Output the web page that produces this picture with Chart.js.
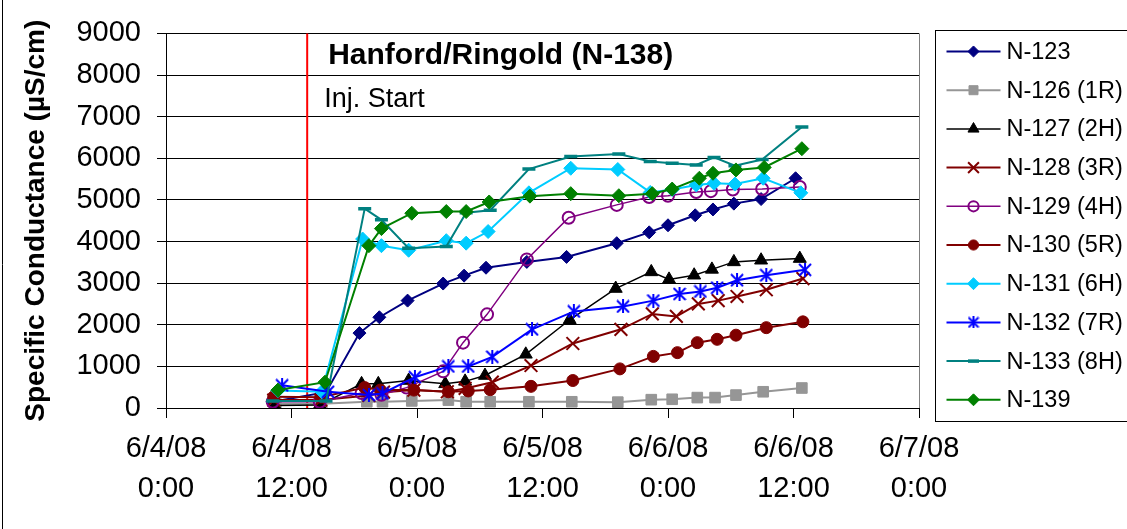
<!DOCTYPE html>
<html>
<head>
<meta charset="utf-8">
<script src="https://cdn.jsdelivr.net/npm/chart.js@4.4.1/dist/chart.umd.min.js"></script>
<style>
  html, body { margin: 0; padding: 0; background: #fff; }
  #myChart { display: block; }
</style>
</head>
<body>
<canvas id="myChart" width="1127" height="529"></canvas>
<script>
// x values are hours after 6/4/08 0:00
const tickHours = [0, 12, 24, 36, 48, 60, 72];
const tickDates = ['6/4/08', '6/4/08', '6/5/08', '6/5/08', '6/6/08', '6/6/08', '6/7/08'];
const tickTimes = ['0:00', '12:00', '0:00', '12:00', '0:00', '12:00', '0:00'];
const injStart = 13.5;

const wells = ['N-123', 'N-126 (1R)', 'N-127 (2H)', 'N-128 (3R)', 'N-129 (4H)',
               'N-130 (5R)', 'N-131 (6H)', 'N-132 (7R)', 'N-133 (8H)', 'N-139'];

const t123 = [10.2, 15.3, 18.5, 20.4, 23.1, 26.5, 28.5, 30.6, 34.5, 38.3, 43.1, 46.2, 48.0, 50.6, 52.3, 54.3, 56.9, 60.2];
const v123 = [150, 380, 1800, 2180, 2580, 2990, 3180, 3370, 3510, 3630, 3960, 4220, 4390, 4630, 4770, 4910, 5020, 5520];

const t126 = [10.5, 14.9, 19.2, 20.7, 23.5, 27.0, 28.7, 31.0, 34.7, 38.8, 43.2, 46.4, 48.4, 50.8, 52.5, 54.5, 57.1, 60.8];
const v126 = [100, 100, 150, 150, 170, 190, 150, 150, 150, 150, 140, 200, 210, 250, 250, 310, 390, 480];

const t127 = [10.4, 14.7, 18.7, 20.3, 23.2, 26.7, 28.6, 30.5, 34.4, 38.6, 43.0, 46.4, 48.1, 50.5, 52.2, 54.3, 56.9, 60.6];
const v127 = [60, 70, 580, 580, 660, 580, 640, 780, 1290, 2120, 2870, 3270, 3090, 3190, 3330, 3510, 3550, 3590];

const t128 = [10.3, 14.8, 19.4, 20.8, 23.7, 26.9, 28.6, 31.2, 34.9, 38.9, 43.5, 46.5, 48.8, 50.9, 52.8, 54.6, 57.4, 60.9];
const v128 = [190, 190, 300, 380, 430, 390, 470, 620, 1020, 1550, 1890, 2260, 2200, 2500, 2580, 2680, 2840, 3110];

const t129 = [10.2, 14.7, 18.7, 20.6, 23.0, 26.5, 28.4, 30.7, 34.5, 38.5, 43.1, 46.2, 48.0, 50.7, 52.1, 54.2, 57.0, 60.6];
const v129 = [150, 150, 360, 320, 490, 880, 1570, 2250, 3570, 4570, 4880, 5070, 5100, 5190, 5210, 5250, 5260, 5310];

const t130 = [10.3, 14.8, 19.0, 20.5, 23.7, 27.0, 28.9, 31.0, 34.9, 38.9, 43.4, 46.6, 48.9, 50.8, 52.7, 54.5, 57.4, 60.9];
const v130 = [270, 260, 490, 430, 430, 390, 410, 440, 520, 660, 940, 1240, 1330, 1570, 1650, 1750, 1930, 2070];

const t131 = [10.7, 14.9, 18.8, 20.6, 23.2, 26.8, 28.7, 30.8, 34.7, 38.7, 43.2, 46.3, 48.4, 50.7, 52.4, 54.4, 57.1, 60.7];
const v131 = [420, 390, 4060, 3900, 3790, 4020, 3960, 4240, 5170, 5760, 5730, 5180, 5250, 5360, 5400, 5380, 5520, 5170];

const t132 = [11.1, 15.5, 19.4, 20.7, 23.8, 27.0, 28.9, 31.2, 35.0, 39.0, 43.7, 46.6, 49.1, 51.1, 52.7, 54.6, 57.4, 61.1];
const v132 = [545, 390, 310, 350, 740, 1000, 1000, 1230, 1890, 2320, 2440, 2580, 2740, 2800, 2890, 3070, 3190, 3320];

const t133 = [10.2, 15.3, 19.0, 20.6, 23.2, 26.8, 28.7, 31.0, 34.7, 38.7, 43.3, 46.3, 48.4, 50.7, 52.4, 54.4, 57.0, 60.8];
const v133 = [170, 170, 4790, 4520, 3840, 3880, 4690, 4750, 5740, 6040, 6100, 5920, 5880, 5840, 6020, 5820, 5970, 6750];

const t139 = [10.7, 15.2, 19.4, 20.6, 23.5, 26.8, 28.7, 30.9, 34.8, 38.7, 43.3, 46.5, 48.4, 51.0, 52.3, 54.5, 57.2, 60.8];
const v139 = [430, 620, 3900, 4310, 4680, 4720, 4720, 4950, 5090, 5150, 5100, 5150, 5260, 5520, 5640, 5720, 5780, 6230];

const FONT = "'Liberation Sans', Arial, sans-serif";

// Excel-style asterisk marker
function makeStar(color, size) {
  const c = document.createElement('canvas');
  c.width = size; c.height = size;
  const g = c.getContext('2d');
  g.strokeStyle = color;
  g.lineWidth = 2;
  g.beginPath();
  g.moveTo(size / 2, 0); g.lineTo(size / 2, size);
  g.moveTo(1, 1); g.lineTo(size - 1, size - 1);
  g.moveTo(size - 1, 1); g.lineTo(1, size - 1);
  g.stroke();
  return c;
}
const star = makeStar('#0000FF', 14);
const starSmall = makeStar('#0000FF', 12);

function pts(t, v) {
  return t.map((x, i) => ({ x: x, y: v[i] }));
}

function series(i, t, v, color, style, radius, fill, lineW, markW) {
  return {
    label: wells[i],
    data: pts(t, v),
    borderColor: color,
    backgroundColor: color,
    borderWidth: lineW,
    pointStyle: style,
    pointRadius: radius,
    pointHoverRadius: radius,
    pointBackgroundColor: fill,
    pointBorderColor: color,
    pointBorderWidth: markW,
    tension: 0,
    fill: false,
    order: 10 - i
  };
}

const datasets = [
  series(0, t123, v123, '#000080', 'rectRot', 6.5, '#000080', 2, 1),
  series(1, t126, v126, '#969696', 'rect', 7.5, '#969696', 2, 1),
  series(2, t127, v127, '#000000', 'triangle', 7.5, '#000000', 1.5, 1),
  series(3, t128, v128, '#800000', 'crossRot', 9, '#800000', 2, 2),
  series(4, t129, v129, '#800080', 'circle', 6, 'rgba(0,0,0,0)', 1.5, 2),
  series(5, t130, v130, '#800000', 'circle', 6, '#800000', 2, 1),
  series(6, t131, v131, '#00CCFF', 'rectRot', 7, '#00CCFF', 2, 1),
  series(7, t132, v132, '#0000FF', star, 7, '#0000FF', 2, 2),
  series(8, t133, v133, '#008080', 'line', 6.5, '#008080', 2, 3.5),
  series(9, t139, v139, '#008000', 'rectRot', 7, '#008000', 2, 1)
];

const extras = {
  id: 'extras',
  beforeDatasetsDraw(chart) {
    const ctx = chart.ctx;
    const a = chart.chartArea;
    const x = chart.scales.x.getPixelForValue(injStart);
    ctx.save();
    ctx.strokeStyle = '#FF0000';
    ctx.lineWidth = 2;
    ctx.beginPath();
    ctx.moveTo(x, a.top);
    ctx.lineTo(x, a.bottom);
    ctx.stroke();
    // right edge of plot area
    ctx.strokeStyle = '#808080';
    ctx.lineWidth = 1;
    ctx.beginPath();
    ctx.moveTo(Math.round(a.right) + 0.5, a.top);
    ctx.lineTo(Math.round(a.right) + 0.5, a.bottom);
    ctx.stroke();
    ctx.fillStyle = '#000';
    ctx.textBaseline = 'alphabetic';
    ctx.font = 'bold 30px ' + FONT;
    ctx.fillText('Hanford/Ringold (N-138)', x + 21, a.top + 31);
    ctx.font = '27px ' + FONT;
    ctx.fillText('Inj. Start', x + 17, a.top + 74);
    ctx.restore();
  },
  afterDraw(chart) {
    const ctx = chart.ctx;
    const a = chart.chartArea;
    ctx.save();
    // outer frame
    ctx.strokeStyle = '#000';
    ctx.lineWidth = 1;
    ctx.beginPath();
    ctx.moveTo(2.5, 0);
    ctx.lineTo(2.5, chart.height);
    ctx.stroke();
    // legend
    const lx = Math.round(a.right) + 16.5;
    const ly = 30.5;
    ctx.strokeRect(lx, ly, 220, 391);
    chart.data.datasets.forEach((ds, i) => {
      const y = ly + 21 + i * 38.7;
      ctx.strokeStyle = ds.borderColor;
      ctx.lineWidth = ds.borderWidth;
      ctx.beginPath();
      ctx.moveTo(lx + 11, y);
      ctx.lineTo(lx + 65, y);
      ctx.stroke();
      ctx.fillStyle = ds.pointBackgroundColor;
      ctx.strokeStyle = ds.pointBorderColor;
      ctx.lineWidth = ds.pointBorderWidth;
      const ps = ds.pointStyle === star ? starSmall : ds.pointStyle;
      Chart.helpers.drawPoint(ctx, {
        pointStyle: ps,
        radius: ds.pointRadius * 0.85,
        borderWidth: ds.pointBorderWidth,
        rotation: 0
      }, lx + 38, y);
      ctx.fillStyle = '#000';
      ctx.font = '23.5px ' + FONT;
      ctx.textBaseline = 'middle';
      ctx.fillText(ds.label, lx + 71, y + 1);
    });
    ctx.restore();
  }
};

new Chart(document.getElementById('myChart'), {
  type: 'line',
  data: { datasets: datasets },
  options: {
    responsive: false,
    animation: false,
    devicePixelRatio: 1,
    layout: { padding: { left: 0, right: 208, top: 28, bottom: 0 } },
    plugins: {
      legend: { display: false },
      tooltip: { enabled: false }
    },
    scales: {
      x: {
        type: 'linear',
        min: 0,
        max: 72,
        afterBuildTicks: s => { s.ticks = tickHours.map(h => ({ value: h })); },
        afterFit: s => { s.height = 121; },
        ticks: {
          autoSkip: false,
          maxRotation: 0,
          padding: 11,
          color: '#000',
          font: { family: FONT, size: 29, lineHeight: 1.38 },
          callback: v => {
            const k = tickHours.indexOf(v);
            return [tickDates[k], tickTimes[k]];
          }
        },
        grid: { drawOnChartArea: false, tickLength: 10, color: '#000', tickColor: '#000' },
        border: { color: '#000', width: 1 }
      },
      y: {
        min: 0,
        max: 9000,
        afterFit: s => { s.width = 166; },
        ticks: {
          stepSize: 1000,
          padding: 16,
          color: '#000',
          font: { family: FONT, size: 29 },
          callback: v => String(v)
        },
        grid: { color: '#000', tickLength: 9, tickColor: '#000' },
        border: { color: '#000', width: 1 },
        title: {
          display: true,
          text: 'Specific Conductance (µS/cm)',
          color: '#000',
          font: { family: FONT, size: 28, weight: 'bold' },
          padding: { top: 19, bottom: 0 }
        }
      }
    }
  },
  plugins: [extras]
});
</script>
</body>
</html>
